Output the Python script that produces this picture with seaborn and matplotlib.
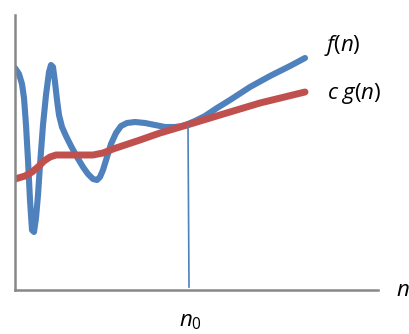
import numpy as np
import pandas as pd
import seaborn as sns
import matplotlib.pyplot as plt

# f(n) (x right, y up, axes units)
f_x = [0, 4, 7, 9, 11, 13, 15, 17, 19, 21, 23, 25, 28, 31, 34, 36, 38, 40, 42, 44, 47,
       51, 56, 62, 68, 73, 78, 82, 85, 88, 92, 96, 101, 106, 112, 120, 130, 140, 150,
       160, 167, 173, 180, 190, 202, 215, 235, 255, 275, 290]
f_y = [222, 216, 206, 192, 165, 130, 90, 60, 58, 72, 95, 125, 165, 195, 218, 225, 223,
       208, 190, 175, 163, 154, 144, 133, 123, 116, 111, 110, 113, 120, 133, 146, 157,
       164, 167, 168, 167, 165, 163, 163, 164, 166, 169, 174, 182, 190, 203, 214, 224, 232]

# c g(n)
g_x = [0, 10, 17, 23, 29, 35, 41, 50, 65, 78, 88, 98, 110, 125, 145, 172, 205, 245, 290]
g_y = [111, 114, 118, 123, 129, 133, 135, 135, 135, 135, 137, 141, 145, 150, 157, 165, 175, 187, 198]

n0 = 173
n0_top = 164

plt.rcParams['mathtext.fontset'] = 'custom'
plt.rcParams['mathtext.rm'] = 'Open Sans'
plt.rcParams['mathtext.it'] = 'Open Sans:italic'

fig = plt.figure(figsize=(4.09, 3.34), dpi=100)
ax = fig.add_axes([15/409, 44/334, 363/409, 275/334])

df_f = pd.DataFrame({'n': f_x, 'v': f_y})
df_g = pd.DataFrame({'n': g_x, 'v': g_y})

sns.lineplot(data=df_f, x='n', y='v', sort=False, estimator=None, ax=ax,
             color='#4F81BD', lw=4.4, solid_capstyle='round', solid_joinstyle='round')
sns.lineplot(data=df_g, x='n', y='v', sort=False, estimator=None, ax=ax,
             color='#C0504D', lw=5.0, solid_capstyle='round', solid_joinstyle='round')
ax.plot([n0, n0 + 1], [n0_top, 3], color='#4F81BD', lw=1.2)

ax.set_xlim(0, 363)
ax.set_ylim(0, 275)
for s in ['top', 'right']:
    ax.spines[s].set_visible(False)
for s in ['left', 'bottom']:
    ax.spines[s].set_color('#888888')
    ax.spines[s].set_linewidth(1.8)
ax.set_xticks([])
ax.set_yticks([])
ax.set_xlabel('')
ax.set_ylabel('')

fs = 16
ax.text(309, 245, r'$f(n)$', fontsize=fs, va='center', ha='left')
ax.text(312, 196, r'$c\;g(n)$', fontsize=fs, va='center', ha='left')
fig.text(396/409, 1 - 290/334, r'$n$', fontsize=fs, va='center', ha='left')
fig.text(190/409, 1 - 322/334, r'$n_0$', fontsize=fs, va='center', ha='center')

fig.savefig('out.png', dpi=100)
